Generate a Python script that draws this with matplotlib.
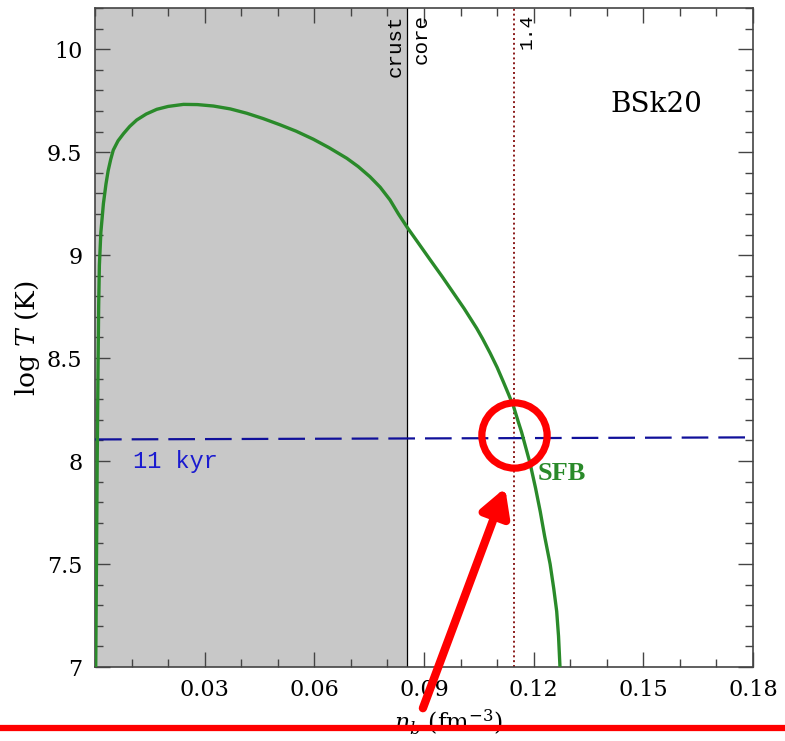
import matplotlib
matplotlib.use("Agg")
import matplotlib.pyplot as plt
from matplotlib.lines import Line2D
from matplotlib.ticker import MultipleLocator, FixedLocator, FuncFormatter

# ---- data ----
nb_curve = [0.0002, 0.0004, 0.0006, 0.0008, 0.0010, 0.0012, 0.0016, 0.0023, 0.0030,
            0.0036, 0.0043, 0.0050, 0.0063, 0.0078, 0.0095, 0.0114, 0.0140, 0.0169,
            0.0200, 0.0242, 0.0280, 0.0324, 0.0370, 0.0415, 0.0460, 0.0506, 0.0550,
            0.0597, 0.0640, 0.0689, 0.0720, 0.0752, 0.0780, 0.0807, 0.0830, 0.0854,
            0.0880, 0.0917, 0.0950, 0.0981, 0.1010, 0.1044, 0.1060, 0.1081, 0.1100,
            0.1117, 0.1130, 0.1145, 0.1158, 0.1167, 0.1190, 0.1205, 0.1218, 0.1230,
            0.1245, 0.1255, 0.1263, 0.1268, 0.1272]
logT_curve = [7.00, 7.50, 8.00, 8.40, 8.75, 8.95, 9.11, 9.25, 9.345,
              9.41, 9.465, 9.51, 9.555, 9.59, 9.625, 9.656, 9.685, 9.708,
              9.722, 9.732, 9.731, 9.724, 9.71, 9.689, 9.663, 9.633, 9.602,
              9.563, 9.522, 9.47, 9.43, 9.381, 9.33, 9.268, 9.20, 9.135,
              9.07, 8.977, 8.895, 8.815, 8.74, 8.645, 8.595, 8.524, 8.455,
              8.385, 8.33, 8.265, 8.19, 8.14, 7.99, 7.87, 7.755, 7.635,
              7.50, 7.38, 7.27, 7.15, 7.00]
nb_age = [0.0, 0.18]
logT_age = [8.105, 8.115]
nb_crust_core = 0.0854
nb_m14 = 0.1146
x_ticks = [0.03, 0.06, 0.09, 0.12, 0.15, 0.18]
y_ticks = [7, 7.5, 8, 8.5, 9, 9.5, 10]
model_label = "BSk20"
age_label = "11 kyr"
curve_label = "SFB"
mass_label = "1.4"
circle_center = (0.1146, 8.125)
arrow_tip = (0.1122, 7.87)
arrow_tail = (0.0897, 6.80)

plt.rcParams['mathtext.fontset'] = 'dejavuserif'

W, H = 785, 741
fig = plt.figure(figsize=(W / 100, H / 100), dpi=100)
ax = fig.add_axes([95 / W, 1 - 667 / H, (753 - 95) / W, (667 - 8) / H])

ax.set_xlim(0, 0.18)
ax.set_ylim(7, 10.2)

ax.axvspan(0, nb_crust_core, color='#c8c8c8', zorder=0, lw=0)
ax.axvline(nb_crust_core, color='black', lw=0.9, zorder=1)
ax.axvline(nb_m14, color='#8b1a1a', lw=1.4, ls=(0, (1, 1.5)), zorder=2)

ax.plot(nb_age, logT_age, color='#10109a', lw=1.6, dashes=(12, 4.5), zorder=3)
ax.plot(nb_curve, logT_curve, color='#2a8a2a', lw=2.4, zorder=4,
        solid_joinstyle='round', solid_capstyle='round')

serif = 'DejaVu Serif'
mono = 'Liberation Mono'
ax.text(0.1535, 9.73, model_label, fontsize=20, family=serif, ha='center', va='center')
ax.text(0.0105, 8.0, age_label, fontsize=17, family=mono, color='#1a1ad0', ha='left', va='center')
ax.text(0.1212, 7.94, curve_label, fontsize=19, family='Liberation Serif', fontweight='bold',
        color='#2a8a2a', ha='left', va='center')
ax.text(nb_crust_core - 0.0008, 10.17, 'crust', rotation=90, fontsize=15, family=mono,
        ha='right', va='top')
ax.text(nb_crust_core + 0.0012, 10.17, 'core', rotation=90, fontsize=15, family=mono,
        ha='left', va='top')
ax.text(nb_m14 + 0.0012, 10.17, mass_label, rotation=90, fontsize=14, family=mono,
        ha='left', va='top')

# ticks
ax.xaxis.set_major_locator(FixedLocator(x_ticks))
ax.xaxis.set_minor_locator(MultipleLocator(0.01))
ax.yaxis.set_major_locator(FixedLocator(y_ticks))
ax.yaxis.set_minor_locator(MultipleLocator(0.1))
ax.xaxis.set_major_formatter(FuncFormatter(lambda v, p: f"{v:.2f}"))
ax.yaxis.set_major_formatter(FuncFormatter(lambda v, p: f"{v:g}"))
ax.tick_params(which='both', direction='in', top=True, right=True, color='#444444')
ax.tick_params(which='major', length=11, width=1.0, labelsize=16, pad=9)
ax.tick_params(which='minor', length=5.5, width=1.0)
for lab in ax.get_xticklabels() + ax.get_yticklabels():
    lab.set_family(serif)
for s in ax.spines.values():
    s.set_color('#444444')
    s.set_linewidth(1.2)

fig.text(28 / W, 1 - 338 / H, r'log $T$ (K)', rotation=90, fontsize=19, family=serif,
         ha='center', va='center')
fig.text(448 / W, 1 - 722 / H, r'$n_b$ (fm$^{-3}$)', fontsize=17, family=serif,
         ha='center', va='center')

# red overlay annotations
ax.plot([circle_center[0]], [circle_center[1]], marker='o', markersize=47, mfc='none',
        mec='#ff0000', mew=5.2, clip_on=False, zorder=10)
ax.annotate('', xy=arrow_tip, xytext=arrow_tail, xycoords='data', textcoords='data',
            annotation_clip=False, zorder=10,
            arrowprops=dict(arrowstyle='-|>,head_length=1.6,head_width=0.9', color='#ff0000',
                            lw=6, shrinkA=0, shrinkB=0))
fig.add_artist(Line2D([0, 1], [1 - 728 / H, 1 - 728 / H], color='#ff0000', lw=4.5, zorder=20))

fig.savefig('out.png', dpi=100)
